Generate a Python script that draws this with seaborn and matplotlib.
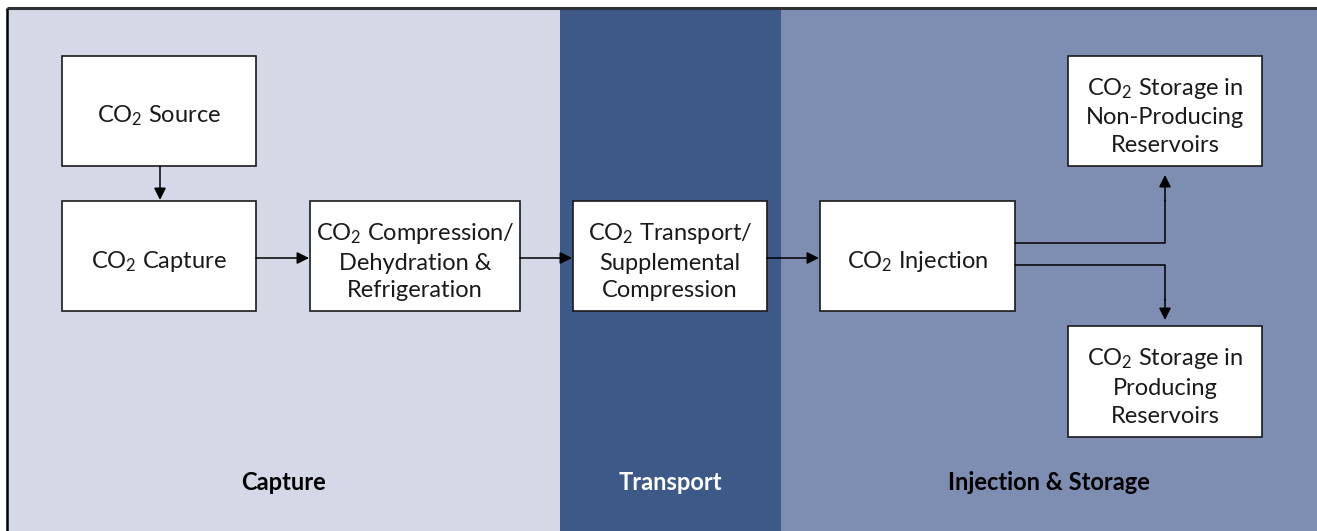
import matplotlib
matplotlib.use("Agg")
import matplotlib.pyplot as plt
import matplotlib.patches as mpatches
import seaborn as sns

# Данные схемы: этапы и подписи блоков
stages = ["Capture", "Transport", "Injection & Storage"]
stage_colors = ["#d4d8e7", "#3c5987", "#7e8db2"]
stage_text_colors = ["black", "white", "black"]

box_labels = [
    "CO$_2$ Source",
    "CO$_2$ Capture",
    "CO$_2$ Compression/\nDehydration &\nRefrigeration",
    "CO$_2$ Transport/\nSupplemental\nCompression",
    "CO$_2$ Injection",
    "CO$_2$ Storage in\nNon-Producing\nReservoirs",
    "CO$_2$ Storage in\nProducing\nReservoirs",
]

# Разметка (пиксели): границы этапов и прямоугольники блоков
stage_edges = [7, 560, 781, 1317]
boxes = [
    (62, 56, 194, 110),
    (62, 201, 194, 110),
    (310, 201, 210, 110),
    (573, 201, 194, 110),
    (820, 201, 195, 110),
    (1068, 56, 194, 110),
    (1068, 326, 194, 111),
]


def main():
    sns.set_theme(style="white")
    plt.rcParams["font.family"] = ["Lato", "DejaVu Sans"]
    plt.rcParams["mathtext.fontset"] = "custom"
    plt.rcParams["mathtext.rm"] = "Lato"
    plt.rcParams["mathtext.it"] = "Lato:italic"
    plt.rcParams["mathtext.bf"] = "Lato:bold"

    fig = plt.figure(figsize=(13.17, 5.31), dpi=100)
    ax = fig.add_axes([0, 0, 1, 1])
    ax.set_xlim(0, 1317)
    ax.set_ylim(531, 0)
    ax.axis("off")

    # Фоновые полосы этапов
    for i, name in enumerate(stages):
        x0, x1 = stage_edges[i], stage_edges[i + 1]
        ax.add_patch(mpatches.Rectangle((x0, 8), x1 - x0, 531 - 8,
                                        facecolor=stage_colors[i], edgecolor="none", zorder=0))
        ax.text((x0 + x1) / 2 if i else 283, 483, name, ha="center", va="center",
                fontsize=17, fontweight="bold", color=stage_text_colors[i])

    # Рамка сверху и слева
    ax.plot([7, 1317], [8, 8], color="#2e3038", lw=2.2, solid_capstyle="butt", zorder=3)
    ax.plot([7, 7], [8, 531], color="black", lw=1.8, solid_capstyle="butt", zorder=3)

    # Блоки
    for (x, y, w, h), label in zip(boxes, box_labels):
        ax.add_patch(mpatches.Rectangle((x, y), w, h, facecolor="white",
                                        edgecolor="#1a1a1a", lw=1.2, zorder=2))
        ax.text(x + w / 2, y + h / 2 + 5, label, ha="center", va="center",
                fontsize=17, color="#1a1a1a", linespacing=1.4, zorder=4)

    arrow = dict(arrowstyle="-|>", color="black", lw=1.1, mutation_scale=18,
                 shrinkA=0, shrinkB=0)

    def connect(a, b):
        ax.annotate("", xy=b, xytext=a, arrowprops=arrow, zorder=3)

    # Стрелки между блоками
    connect((160, 166), (160, 200))
    connect((256, 258), (309, 258))
    connect((520, 258), (572, 258))
    connect((767, 258), (819, 258))

    # Разветвление после закачки
    ax.plot([1015, 1165, 1165], [243, 243, 200], color="black", lw=1.1, zorder=3)
    connect((1165, 201), (1165, 175))
    ax.plot([1015, 1165, 1165], [265, 265, 300], color="black", lw=1.1, zorder=3)
    connect((1165, 299), (1165, 320))

    fig.savefig("out.png", dpi=100)


if __name__ == "__main__":
    main()
